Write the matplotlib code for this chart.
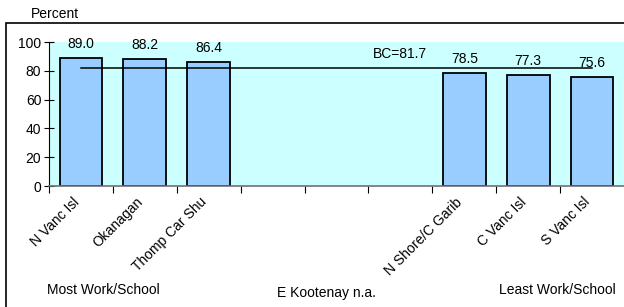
import matplotlib
matplotlib.use("Agg")
import matplotlib.pyplot as plt
from matplotlib.patches import Rectangle
from matplotlib.transforms import ScaledTranslation

regions = ["N Vanc Isl", "Okanagan", "Thomp Car Shu", "", "", "",
           "N Shore/C Garib", "C Vanc Isl", "S Vanc Isl"]
values = [89.0, 88.2, 86.4, None, None, None, 78.5, 77.3, 75.6]
bc_value = 81.7
y_ticks = [0, 20, 40, 60, 80, 100]

plt.rcParams["font.family"] = ["Liberation Sans", "DejaVu Sans"]
plt.rcParams["font.size"] = 10

fig = plt.figure(figsize=(6.24, 3.07), dpi=100)
ax = fig.add_axes([49 / 624, 1 - 186 / 307, 575 / 624, 144 / 307])
ax.set_facecolor("#CCFFFF")

positions = list(range(len(regions)))
for pos, val in zip(positions, values):
    if val is None:
        continue
    ax.bar(pos, val, width=0.67, color="#99CCFF", edgecolor="black", linewidth=1.3, zorder=2)
    ax.annotate(f"{val:.1f}", (pos, val), xytext=(0, 5), textcoords="offset points",
                ha="center", va="bottom")

# provincial average line
ax.plot([positions[0], positions[-1]], [bc_value, bc_value], color="black", linewidth=1.1, zorder=3)
ax.annotate(f"BC={bc_value}", (5.0, bc_value), xytext=(0, 5), textcoords="offset points",
            ha="center", va="bottom")

ax.set_xlim(-0.5, len(regions) - 0.5)
ax.set_ylim(0, 100)
ax.set_yticks(y_ticks)
ax.tick_params(axis="y", direction="inout", length=7, width=0.8, pad=2, labelsize=10)

ax.set_xticks([p + 0.5 for p in positions[:-1]] + [-0.5])
ax.set_xticklabels([])
ax.tick_params(axis="x", which="major", direction="out", length=5, width=0.8)
ax.set_xticks(positions, minor=True)
ax.set_xticklabels(regions, minor=True, rotation=45, ha="right", va="center",
                   rotation_mode="anchor", fontsize=10)
ax.tick_params(axis="x", which="minor", length=0, pad=10)
offset = ScaledTranslation(-4 / 100, 0, fig.dpi_scale_trans)
for lbl in ax.xaxis.get_minorticklabels():
    lbl.set_transform(lbl.get_transform() + offset)

for side in ["top", "right"]:
    ax.spines[side].set_visible(False)
ax.spines["left"].set_color("black")
ax.spines["bottom"].set_color("#707070")
ax.spines["bottom"].set_linewidth(1.2)

fig.text(55 / 624, 1 - 14 / 307, "Percent", ha="center", va="center")
fig.text(103 / 624, 1 - 290 / 307, "Most Work/School", ha="center", va="center")
fig.text(326 / 624, 1 - 293 / 307, "E Kootenay n.a.", ha="center", va="center")
fig.text(557 / 624, 1 - 290 / 307, "Least Work/School", ha="center", va="center")

fig.patches.append(Rectangle((6 / 624, -0.05), 1.1, 1 - 23 / 307 + 0.05, transform=fig.transFigure,
                             fill=False, edgecolor="black", linewidth=1.2))

fig.savefig("out.png", dpi=100)
